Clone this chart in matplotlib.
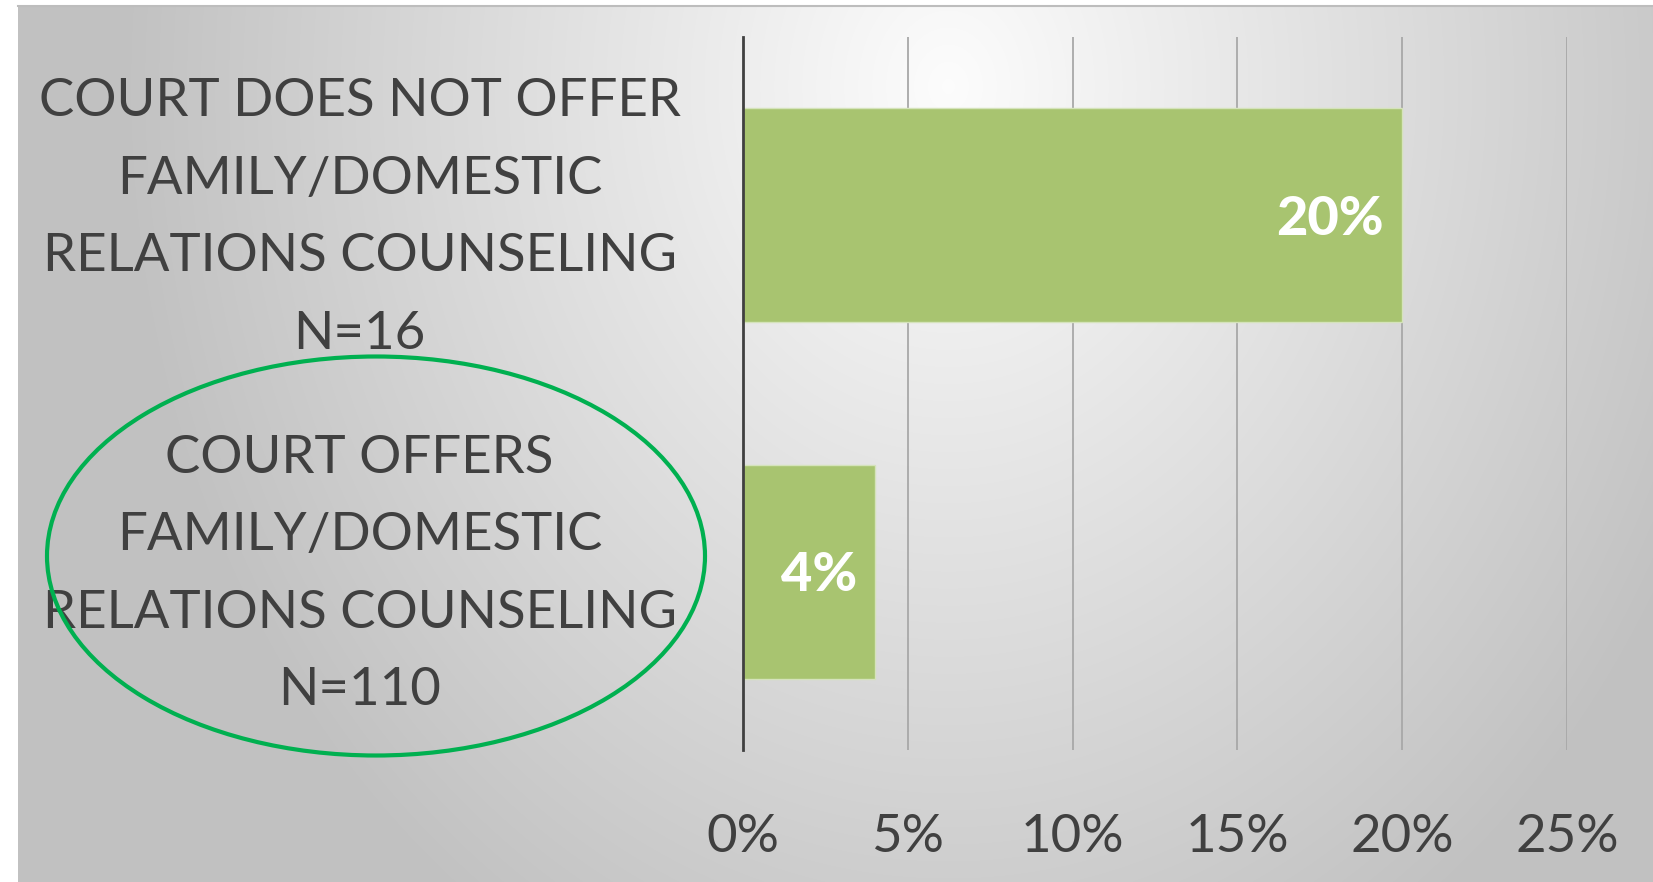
import numpy as np
from matplotlib import pyplot as plt
from matplotlib.patches import Ellipse
import matplotlib.ticker as ticker
import matplotlib.transforms as mtransforms

plt.rcParams['font.family'] = ['Lato', 'DejaVu Sans']

categories = ['COURT DOES NOT OFFER\nFAMILY/DOMESTIC\nRELATIONS COUNSELING\nN=16',
              'COURT OFFERS\nFAMILY/DOMESTIC\nRELATIONS COUNSELING\nN=110']
values = [0.20, 0.04]
value_labels = ['20%', '4%']
xticks = [0, 0.05, 0.10, 0.15, 0.20, 0.25]

W, H = 1653, 882
fig = plt.figure(figsize=(W / 100, H / 100), dpi=100)
fig.patch.set_facecolor('white')

# 背景渐变（中心偏上亮，四周灰）
bg = fig.add_axes([18 / W, 0, 1 - 18 / W, 1 - 6 / H])
yy, xx = np.mgrid[0:876, 0:1635]
d = np.sqrt(((xx - 930) / 820.0) ** 2 + ((yy - 80) / 1000.0) ** 2)
shade = 0.99 - 0.23 * np.clip(d, 0, 1)
bg.imshow(np.dstack([shade] * 3), aspect='auto', interpolation='bilinear')
bg.set_axis_off()
fig.add_artist(plt.Line2D([18 / W, 1], [1 - 6 / H, 1 - 6 / H], color='#bdbdbd', lw=1.5))

ax = fig.add_axes([743 / W, 1 - 750 / H, 824 / W, 713 / H])
ax.patch.set_alpha(0)
y = np.arange(len(categories))
bars = ax.barh(y, values, height=0.6, color='#a8c470', edgecolor='#d5e3bb', linewidth=1, zorder=3)
ax.set_ylim(1.5, -0.5)
ax.set_xlim(0, 0.25)

ax.set_xticks(xticks)
ax.xaxis.set_major_formatter(ticker.PercentFormatter(1.0, decimals=0))
ax.grid(axis='x', color='#a8a8a8', lw=1.3, zorder=0)
for s in ['top', 'right', 'bottom']:
    ax.spines[s].set_visible(False)
ax.spines['left'].set_color('#404040')
ax.spines['left'].set_linewidth(2)
ax.spines['left'].set_zorder(4)

ax.tick_params(axis='x', length=0, pad=46, labelsize=38, labelcolor='#404040')
ax.set_yticks(y)
ax.set_yticklabels(categories, fontsize=38, color='#404040', ha='center',
                   multialignment='center', linespacing=1.8)
ax.tick_params(axis='y', length=0, pad=276)
# 分类标签整体上移一点
shift = mtransforms.ScaledTranslation(0, 0.17, fig.dpi_scale_trans)
for lab in ax.get_yticklabels():
    lab.set_transform(lab.get_transform() + shift)

for b, lab in zip(bars, value_labels):
    ax.annotate(lab, (b.get_width(), b.get_y() + b.get_height() / 2),
                xytext=(-13, -3), textcoords='offset points', ha='right', va='center',
                fontsize=39, fontweight='black', color='white', zorder=5)

# 圈出第二类
fig.add_artist(Ellipse((376 / W, 1 - 556 / H), 658 / W, 399 / H, fill=False,
                       edgecolor='#00b050', lw=3, transform=fig.transFigure))

plt.savefig('out.png', dpi=100)
